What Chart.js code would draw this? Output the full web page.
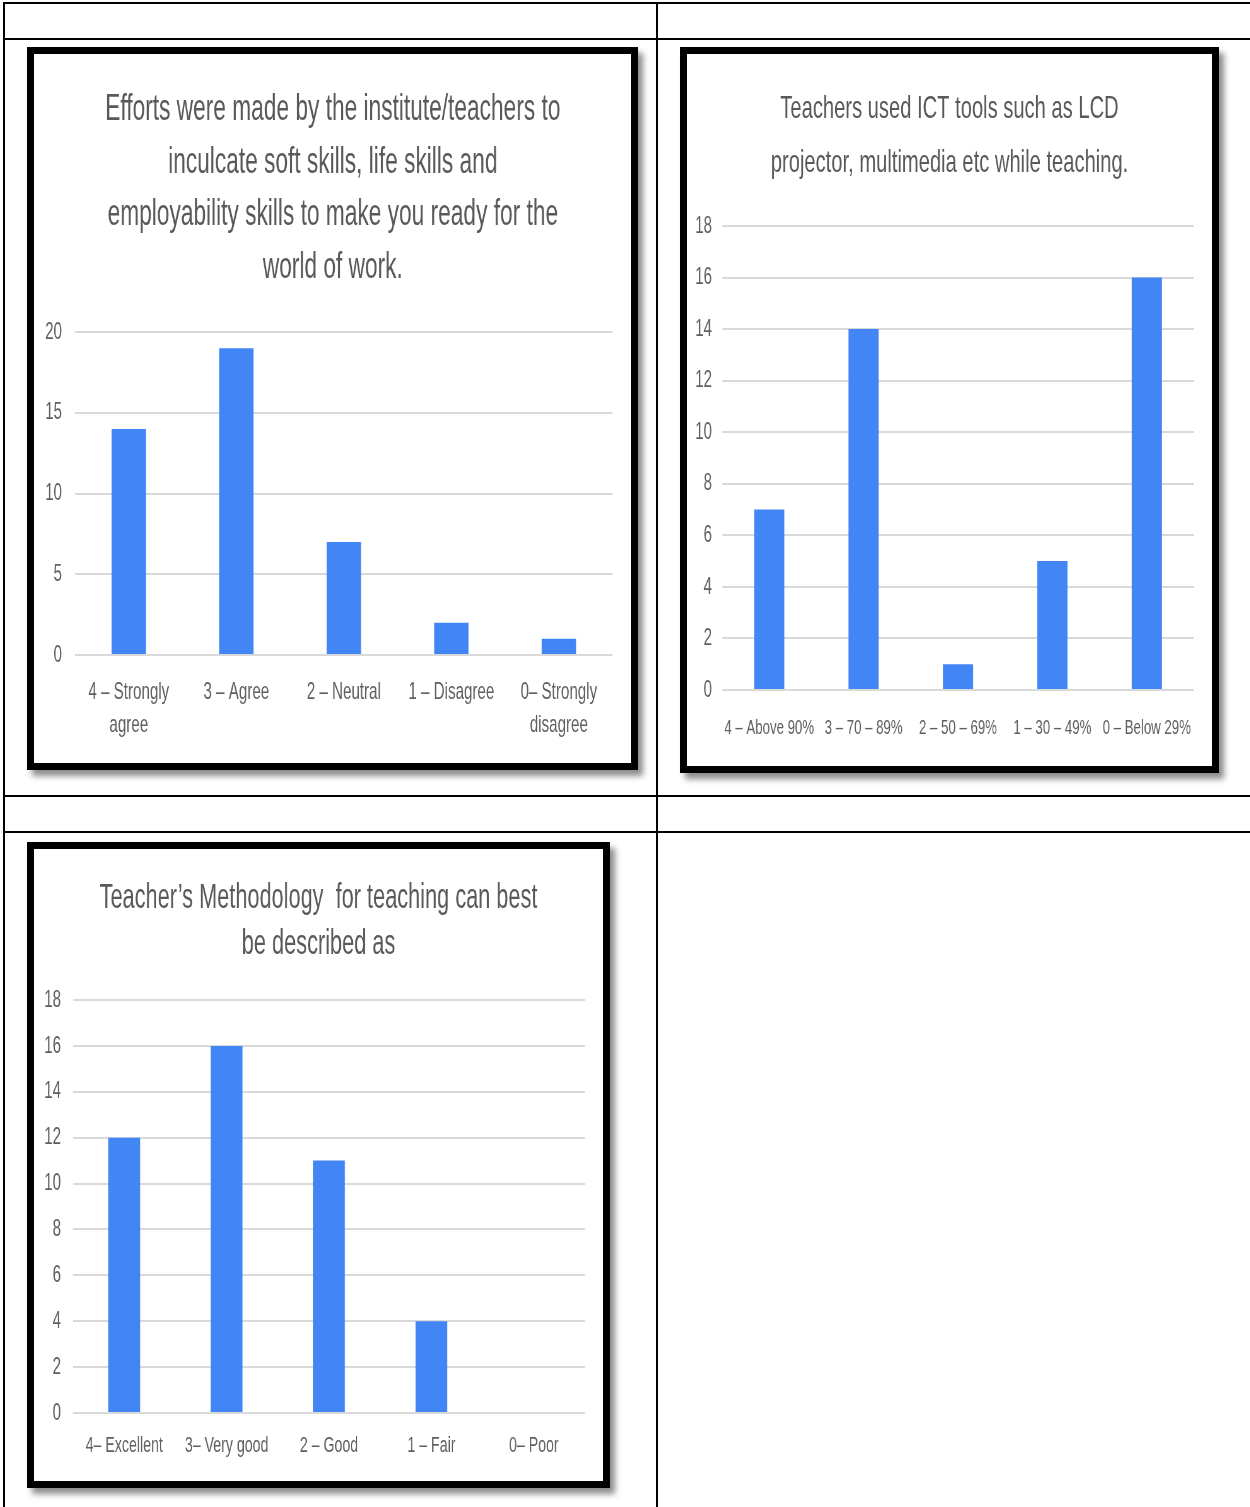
<!DOCTYPE html>
<html lang="en">
<head>
<meta charset="UTF-8">
<title>Survey charts</title>
<script src="https://cdn.jsdelivr.net/npm/chart.js"></script>
<style>
  body { margin: 0; background: #fff; width: 1250px; height: 1507px; position: relative; overflow: hidden; }
  .line { position: absolute; background: #000; }
  .frame { position: absolute; box-sizing: border-box; border: 7px solid #000; background: #fff;
           box-shadow: 5px 6px 6px rgba(0,0,0,0.45); overflow: hidden; }
  .inner { position: absolute; left: 0; top: 0; transform-origin: 0 0; }
</style>
</head>
<body>
<!-- table grid -->
<div class="line" style="left:3px;top:2px;width:1247px;height:2px"></div>
<div class="line" style="left:3px;top:38px;width:1247px;height:2px"></div>
<div class="line" style="left:3px;top:795px;width:1247px;height:2px"></div>
<div class="line" style="left:3px;top:831px;width:1247px;height:2px"></div>
<div class="line" style="left:3px;top:2px;width:2px;height:1505px"></div>
<div class="line" style="left:656px;top:2px;width:2px;height:1505px"></div>

<div class="frame" id="f1" style="left:27px;top:47px;width:611px;height:723px"><div class="inner"><canvas id="c1"></canvas></div></div>
<div class="frame" id="f2" style="left:680px;top:47px;width:539px;height:726px"><div class="inner"><canvas id="c2"></canvas></div></div>
<div class="frame" id="f3" style="left:27px;top:842px;width:583px;height:646px"><div class="inner"><canvas id="c3"></canvas></div></div>

<script>
// ---- data ----
const title1 = ['Efforts were made by the institute/teachers to', 'inculcate soft skills, life skills and',
                'employability skills to make you ready for the', 'world of work.'];
const labels1 = [['4 – Strongly', 'agree'], '3 – Agree', '2 – Neutral', '1 – Disagree', ['0– Strongly', 'disagree']];
const values1 = [14, 19, 7, 2, 1];

const title2 = ['Teachers used ICT tools such as LCD', 'projector, multimedia etc while teaching.'];
const labels2 = ['4 – Above 90%', '3 – 70 – 89%', '2 – 50 – 69%', '1 – 30 – 49%', '0 – Below 29%'];
const values2 = [7, 14, 1, 5, 16];

const title3 = ['Teacher’s Methodology  for teaching can best', 'be described as'];
const labels3 = ['4– Excellent', '3– Very good', '2 – Good', '1 – Fair', '0– Poor'];
const values3 = [12, 16, 11, 4, 0];

// the original images are horizontally squeezed
const SX = 0.63;
Chart.defaults.font.family = "'Liberation Sans', Arial, sans-serif";
Chart.defaults.color = '#5f5f5f';

function makeChart(frameId, canvasId, title, labels, values, o) {
    const frame = document.getElementById(frameId);
    const innerW = frame.clientWidth, innerH = frame.clientHeight;
    const box = frame.querySelector('.inner');
    box.style.width = (innerW / SX) + 'px';
    box.style.height = innerH + 'px';
    box.style.transform = 'scaleX(' + SX + ')';

    const lh = o.titleLh;
    const padTop = o.titleFirst - lh / 2;
    const padBottom = o.plot.t - padTop - title.length * lh;

    new Chart(document.getElementById(canvasId), {
        type: 'bar',
        data: {
            labels: labels,
            datasets: [{ data: values, backgroundColor: '#4285f4', borderWidth: 0,
                         barPercentage: o.barPct, categoryPercentage: 1 }]
        },
        options: {
            responsive: true,
            maintainAspectRatio: false,
            animation: false,
            devicePixelRatio: 1,
            layout: { padding: 0 },
            plugins: {
                legend: { display: false },
                tooltip: { enabled: false },
                title: {
                    display: true, text: title, color: '#595959',
                    font: { size: o.titleSize, weight: 'normal', lineHeight: lh / o.titleSize },
                    padding: { top: padTop, bottom: padBottom }
                }
            },
            scales: {
                x: {
                    grid: { display: false, drawTicks: false },
                    border: { display: false },
                    ticks: { font: { size: o.xSize, lineHeight: 33 / o.xSize }, padding: o.xGap - 16.5,
                             maxRotation: 0, autoSkip: false },
                    afterFit: (s) => { s.height = innerH - o.plot.b; }
                },
                y: {
                    min: 0, max: o.yMax,
                    grid: { color: '#d9d9d9', lineWidth: 2, drawTicks: false },
                    border: { display: false },
                    ticks: { stepSize: o.yStep, font: { size: 24 }, padding: o.tickGap / SX },
                    afterFit: (s) => { s.width = o.plot.l / SX; }
                },
                // empty axis that only reserves the white margin on the right
                spacer: {
                    position: 'right', min: 0, max: 1,
                    grid: { display: false, drawTicks: false },
                    border: { display: false },
                    ticks: { display: false },
                    afterFit: (s) => { s.width = (innerW - o.plot.r) / SX; }
                }
            }
        }
    });
}

makeChart('f1', 'c1', title1, labels1, values1, {
    plot: { l: 41, t: 278, r: 578, b: 601 }, titleFirst: 56, titleLh: 52.7, titleSize: 36,
    tickGap: 13, xGap: 37, xSize: 24, yMax: 20, yStep: 5, barPct: 0.32
});
makeChart('f2', 'c2', title2, labels2, values2, {
    plot: { l: 35, t: 172, r: 507, b: 636 }, titleFirst: 55, titleLh: 54, titleSize: 32,
    tickGap: 10, xGap: 38, xSize: 21, yMax: 18, yStep: 2, barPct: 0.32
});
makeChart('f3', 'c3', title3, labels3, values3, {
    plot: { l: 39, t: 151, r: 551, b: 564 }, titleFirst: 49, titleLh: 46, titleSize: 34.5,
    tickGap: 12, xGap: 33, xSize: 22.5, yMax: 18, yStep: 2, barPct: 0.31
});
</script>
</body>
</html>
